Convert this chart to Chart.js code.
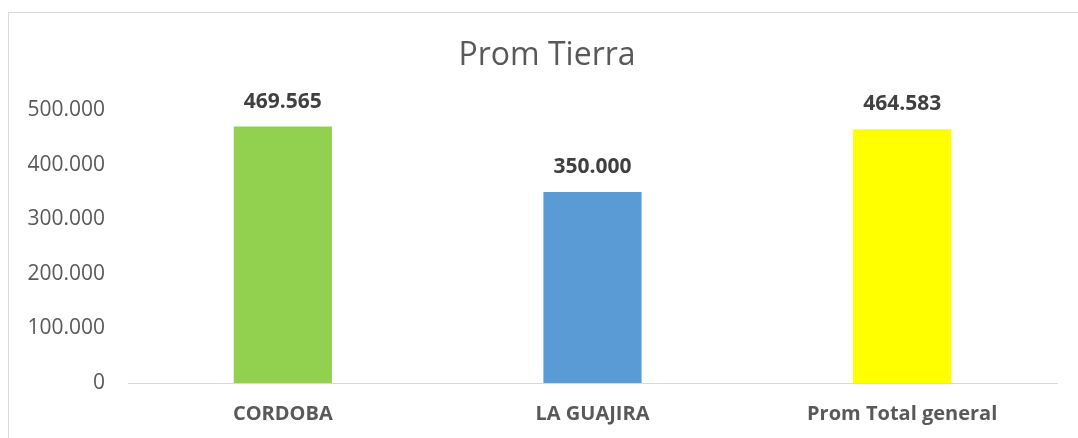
<!DOCTYPE html>
<html>
<head>
<meta charset="utf-8">
<script src="https://cdn.jsdelivr.net/npm/chart.js@4.4.1/dist/chart.umd.min.js"></script>
<style>
  html, body { margin: 0; padding: 0; background: #fff; }
  #wrap { width: 1078px; height: 438px; position: relative; }
</style>
</head>
<body>
<div id="wrap"><canvas id="grafico"></canvas></div>
<script>
const titulo = "Prom Tierra";
const categorias = ["CORDOBA", "LA GUAJIRA", "Prom Total general"];
const valores = [469565, 350000, 464583];
const cores = ["#92d050", "#5b9bd5", "#ffff00"];
const ticksY = [0, 100000, 200000, 300000, 400000, 500000];

function formatar(n) {
    return String(Math.round(n)).replace(/\B(?=(\d{3})+(?!\d))/g, ".");
}

// moldura cinza do grafico + titulo (centrado como no Excel)
const moldura = {
    id: "moldura",
    beforeDraw(chart) {
        const c = chart.ctx;
        c.save();
        c.strokeStyle = "#d9d9d9";
        c.lineWidth = 1;
        c.strokeRect(8.5, 12.5, 1200, 600);
        c.font = "32px 'Open Sans'";
        c.fillStyle = "#595959";
        c.textAlign = "center";
        c.textBaseline = "middle";
        c.fillText(titulo, 547, 56);
        c.restore();
    }
};

const rotulos = {
    id: "rotulos",
    afterDatasetsDraw(chart) {
        const c = chart.ctx;
        const meta = chart.getDatasetMeta(0);
        c.save();
        c.font = "bold 21px 'Open Sans'";
        c.fillStyle = "#404040";
        c.textAlign = "center";
        c.textBaseline = "middle";
        meta.data.forEach((barra, i) => {
            c.fillText(formatar(valores[i]), barra.x, barra.y - 25);
        });
        c.restore();
    }
};

new Chart(document.getElementById("grafico"), {
    type: "bar",
    data: {
        labels: categorias,
        datasets: [{
            data: valores,
            backgroundColor: cores,
            borderWidth: 0,
            categoryPercentage: 1,
            barPercentage: 0.317
        }]
    },
    options: {
        responsive: true,
        maintainAspectRatio: false,
        animation: false,
        layout: { padding: { left: 0, right: 21, top: 110, bottom: 0 } },
        plugins: {
            legend: { display: false },
            tooltip: { enabled: false },
            title: { display: false }
        },
        scales: {
            x: {
                grid: { display: false, drawTicks: false },
                border: { display: true, color: "#d9d9d9", width: 1 },
                ticks: {
                    color: "#595959",
                    padding: 19,
                    font: { family: "'Open Sans'", size: 20, weight: "bold" }
                },
                afterFit(scale) { scale.height = 55; }
            },
            y: {
                min: 0,
                max: 500000,
                grid: { display: false, drawTicks: false },
                border: { display: false },
                afterBuildTicks(scale) {
                    scale.ticks = ticksY.map(v => ({ value: v }));
                },
                ticks: {
                    color: "#595959",
                    padding: 23,
                    font: { family: "'Open Sans'", size: 21 },
                    callback: v => formatar(v)
                },
                afterFit(scale) { scale.width = 128; }
            }
        }
    },
    plugins: [moldura, rotulos]
});
</script>
</body>
</html>
